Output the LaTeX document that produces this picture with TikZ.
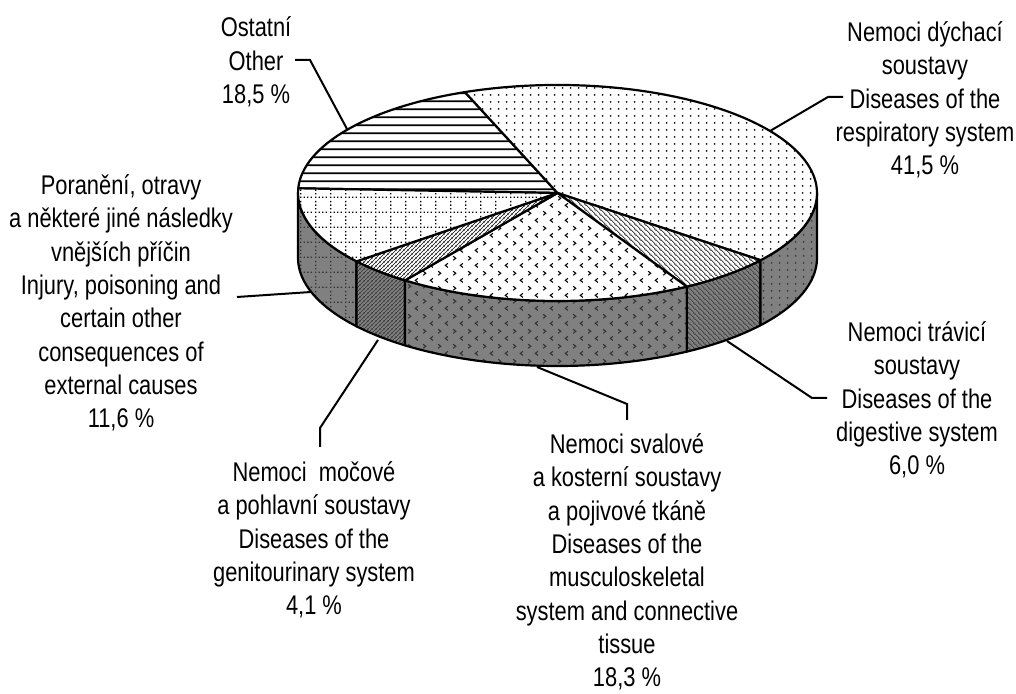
\documentclass[tikz,border=0pt]{standalone}
\usepackage{fontspec}
\setmainfont{Liberation Sans}[FakeStretch=0.81]
\usetikzlibrary{patterns.meta}

\pgfdeclarepattern{name=respdots, type=uncolored,
  bottom left={\pgfpoint{0pt}{0pt}}, top right={\pgfpoint{7.6pt}{7pt}},
  tile size={\pgfpoint{7.6pt}{7pt}},
  code={\pgfpathcircle{\pgfpoint{3.8pt}{3.5pt}}{1.05pt}\pgfusepath{fill}}}

\pgfdeclarepattern{name=digdiag, type=uncolored,
  bottom left={\pgfpoint{0pt}{0pt}}, top right={\pgfpoint{4.6pt}{4.6pt}},
  tile size={\pgfpoint{4.6pt}{4.6pt}},
  code={\pgfsetlinewidth{0.7pt}%
    \pgfpathmoveto{\pgfpoint{-1pt}{5.6pt}}\pgfpathlineto{\pgfpoint{5.6pt}{-1pt}}%
    \pgfpathmoveto{\pgfpoint{-1pt}{1pt}}\pgfpathlineto{\pgfpoint{1pt}{-1pt}}%
    \pgfpathmoveto{\pgfpoint{3.6pt}{5.6pt}}\pgfpathlineto{\pgfpoint{5.6pt}{3.6pt}}%
    \pgfusepath{stroke}}}

\pgfdeclarepattern{name=gendiag, type=uncolored,
  bottom left={\pgfpoint{0pt}{0pt}}, top right={\pgfpoint{4.2pt}{4.2pt}},
  tile size={\pgfpoint{4.2pt}{4.2pt}},
  code={\pgfsetlinewidth{0.75pt}%
    \pgfpathmoveto{\pgfpoint{-1pt}{-1pt}}\pgfpathlineto{\pgfpoint{5.2pt}{5.2pt}}%
    \pgfpathmoveto{\pgfpoint{-1pt}{3.2pt}}\pgfpathlineto{\pgfpoint{1pt}{5.2pt}}%
    \pgfpathmoveto{\pgfpoint{3.2pt}{-1pt}}\pgfpathlineto{\pgfpoint{5.2pt}{1pt}}%
    \pgfusepath{stroke}}}

\pgfdeclarepattern{name=muscchev, type=uncolored,
  bottom left={\pgfpoint{0pt}{0pt}}, top right={\pgfpoint{14.5pt}{14.6pt}},
  tile size={\pgfpoint{14.5pt}{14.6pt}},
  code={\pgfsetlinewidth{1.1pt}%
    \pgfpathmoveto{\pgfpoint{2.2pt}{13.1pt}}\pgfpathlineto{\pgfpoint{4.9pt}{11pt}}\pgfpathlineto{\pgfpoint{2.2pt}{8.9pt}}%
    \pgfpathmoveto{\pgfpoint{12.3pt}{5.8pt}}\pgfpathlineto{\pgfpoint{9.6pt}{3.7pt}}\pgfpathlineto{\pgfpoint{12.3pt}{1.6pt}}%
    \pgfusepath{stroke}}}

\pgfdeclarepattern{name=injgrid, type=uncolored,
  bottom left={\pgfpoint{0pt}{0pt}}, top right={\pgfpoint{15pt}{15pt}},
  tile size={\pgfpoint{15pt}{15pt}},
  code={%
    \pgfpathrectangle{\pgfpoint{0pt}{0pt}}{\pgfpoint{1.5pt}{1.5pt}}%
    \pgfpathrectangle{\pgfpoint{3.75pt}{0pt}}{\pgfpoint{1.5pt}{1.5pt}}%
    \pgfpathrectangle{\pgfpoint{7.5pt}{0pt}}{\pgfpoint{1.5pt}{1.5pt}}%
    \pgfpathrectangle{\pgfpoint{11.25pt}{0pt}}{\pgfpoint{1.5pt}{1.5pt}}%
    \pgfpathrectangle{\pgfpoint{0pt}{3.75pt}}{\pgfpoint{1.5pt}{1.5pt}}%
    \pgfpathrectangle{\pgfpoint{0pt}{7.5pt}}{\pgfpoint{1.5pt}{1.5pt}}%
    \pgfpathrectangle{\pgfpoint{0pt}{11.25pt}}{\pgfpoint{1.5pt}{1.5pt}}%
    \pgfusepath{fill}}}

\pgfdeclarepattern{name=othlines, type=uncolored,
  bottom left={\pgfpoint{0pt}{0pt}}, top right={\pgfpoint{4pt}{7.7pt}},
  tile size={\pgfpoint{4pt}{7.7pt}},
  code={\pgfsetlinewidth{1.8pt}%
    \pgfpathmoveto{\pgfpoint{-1pt}{3.85pt}}\pgfpathlineto{\pgfpoint{5pt}{3.85pt}}%
    \pgfusepath{stroke}}}

\tikzset{
  outl/.style={draw=black, line width=2.2pt, line join=round},
  topface/.style={preaction={fill=white}, pattern=#1, pattern color=black},
  wallface/.style={preaction={fill=black!50}, pattern=#1, pattern color=black!80},
  leader/.style={draw=black, line width=2pt},
  lbl/.style={align=center, inner sep=0pt, font=\fontsize{27}{33.3}\selectfont},
  topsl/.style n args={2}{insert path={(C) -- ([shift={(#1:259.5pt and 108pt)}]C)
      arc[start angle=#1, end angle=#2, x radius=259.5pt, y radius=108pt] -- cycle}},
  wallsg/.style n args={2}{insert path={([shift={(#1:259.5pt and 108pt)}]C)
      arc[start angle=#1, end angle=#2, x radius=259.5pt, y radius=108pt]
      -- ++(0pt,-65pt)
      arc[start angle=#2, end angle=#1, x radius=259.5pt, y radius=108pt] -- cycle}},
}

\begin{document}
\begin{tikzpicture}[x=1pt, y=1pt]
\useasboundingbox (0,0) rectangle (1016,693);
\coordinate (C) at (557.5,500);

% side walls
\path[wallface=injgrid, outl, wallsg={-180}{-140.74}];
\path[wallface=gendiag, outl, wallsg={-140.74}{-125.98}];
\path[wallface=muscchev, outl, wallsg={-125.98}{-60.1}];
\path[wallface=digdiag, outl, wallsg={-60.1}{-38.5}];
\path[wallface=respdots, outl, wallsg={-38.5}{0}];

% top slices
\path[topface=othlines, outl, topsl={177.5}{110.9}];
\path[topface=respdots, outl, topsl={110.9}{-38.5}];
\path[topface=digdiag, outl, topsl={-38.5}{-60.1}];
\path[topface=muscchev, outl, topsl={-60.1}{-125.98}];
\path[topface=gendiag, outl, topsl={-125.98}{-140.74}];
\path[topface=injgrid, outl, topsl={-140.74}{-182.5}];

% labels
\node[lbl] (resp) at (925,593) {Nemoci dýchací\\soustavy\\Diseases of the\\respiratory system\\41,5 \%};
\node[lbl] (oth) at (256,631) {Ostatní\\Other\\18,5 \%};
\node[lbl] (inj) at (121,390) {Poranění, otravy\\a některé jiné následky\\vnějších příčin\\Injury, poisoning and\\certain other\\consequences of\\external causes\\11,6 \%};
\node[lbl] (dig) at (917,293) {Nemoci trávicí\\soustavy\\Diseases of the\\digestive system\\6,0 \%};
\node[lbl] (gen) at (314,153) {Nemoci\ \ močové\\a pohlavní soustavy\\Diseases of the\\genitourinary system\\4,1 \%};
\node[lbl] (musc) at (627,131) {Nemoci svalové\\a kosterní soustavy\\a pojivové tkáně\\Diseases of the\\musculoskeletal\\system and connective\\tissue\\18,3 \%};

% leaders
\coordinate (othP) at (347,564);
\coordinate (othB) at (310,633);
\coordinate (othE) at (295,633);
\draw[leader] (othP) -- (othB) -- (othE);

\coordinate (respP) at (770,562);
\coordinate (respB) at (828,596);
\coordinate (respE) at (843,596);
\draw[leader] (respP) -- (respB) -- (respE);

\coordinate (injP) at (311,401);
\coordinate (injE) at (237,396);
\draw[leader] (injP) -- (injE);

\coordinate (genP) at (378,353);
\coordinate (genB) at (320,265);
\coordinate (genE) at (320,246);
\draw[leader] (genP) -- (genB) -- (genE);

\coordinate (muscP) at (537,326);
\coordinate (muscB) at (627,289);
\coordinate (muscE) at (627,273);
\draw[leader] (muscP) -- (muscB) -- (muscE);

\coordinate (digP) at (727,352);
\coordinate (digB) at (812,295);
\coordinate (digE) at (827,295);
\draw[leader] (digP) -- (digB) -- (digE);
\end{tikzpicture}
\end{document}
